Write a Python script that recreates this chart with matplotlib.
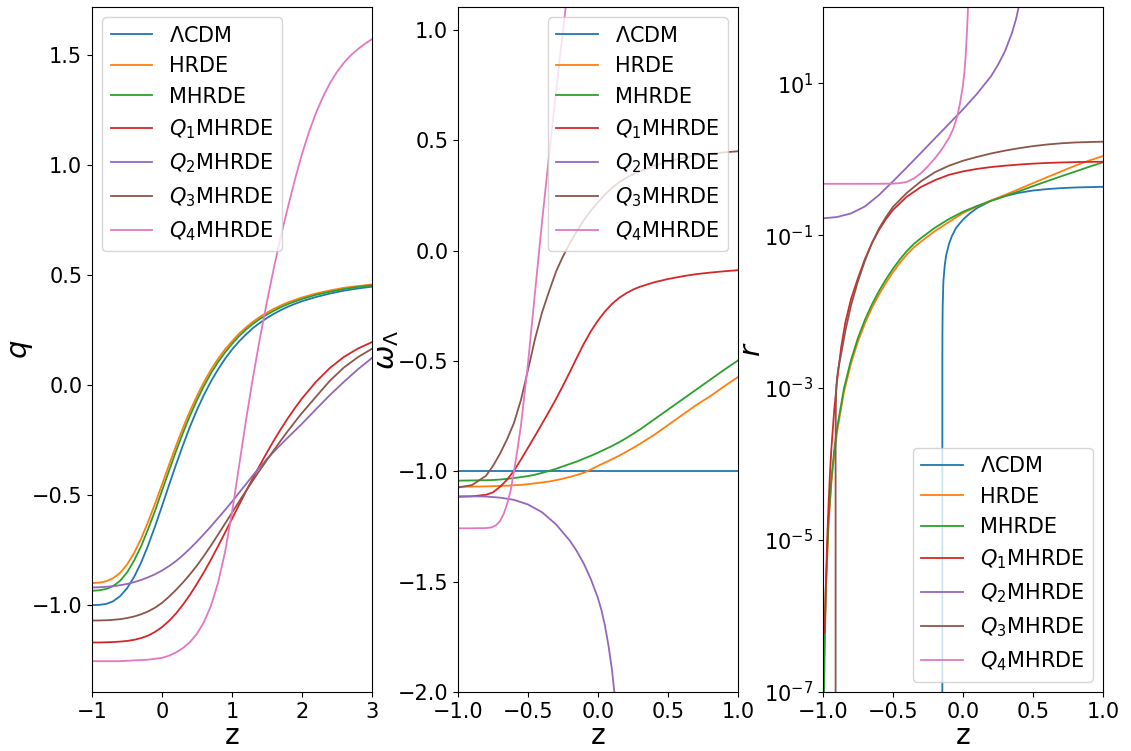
import numpy as np
import matplotlib
matplotlib.use('Agg')
import matplotlib.pyplot as plt
from matplotlib.ticker import FixedLocator, NullLocator

labels = [r'$\Lambda$CDM', 'HRDE', 'MHRDE', r'$Q_1$MHRDE',
          r'$Q_2$MHRDE', r'$Q_3$MHRDE', r'$Q_4$MHRDE']
colors = ['C0', 'C1', 'C2', 'C3', 'C4', 'C5', 'C6']

# ---- panel 1 : deceleration parameter q(z) ----
z1 = [-1.0, -0.9, -0.8, -0.7, -0.6, -0.5, -0.4, -0.3, -0.2, -0.1, 0.0,
      0.1, 0.2, 0.3, 0.4, 0.5, 0.6, 0.7, 0.8, 0.9, 1.0,
      1.1, 1.2, 1.3, 1.4, 1.5, 1.6, 1.7, 1.8, 1.9, 2.0,
      2.2, 2.4, 2.6, 2.8, 3.0]
q_lcdm = [-1.0, -0.999, -0.995, -0.983, -0.960, -0.924, -0.873, -0.808, -0.730, -0.643, -0.550,
          -0.455, -0.362, -0.273, -0.189, -0.113, -0.044, 0.017, 0.071, 0.119, 0.161,
          0.198, 0.230, 0.259, 0.283, 0.305, 0.324, 0.341, 0.356, 0.369, 0.381,
          0.400, 0.416, 0.429, 0.439, 0.447]
q_hrde = [-0.900, -0.898, -0.892, -0.878, -0.854, -0.816, -0.764, -0.699, -0.623, -0.540, -0.452,
          -0.363, -0.276, -0.194, -0.118, -0.049, 0.014, 0.070, 0.119, 0.162, 0.199,
          0.233, 0.262, 0.288, 0.310, 0.329, 0.347, 0.362, 0.376, 0.387, 0.398,
          0.416, 0.430, 0.442, 0.450, 0.457]
q_mhrde = [-0.935, -0.933, -0.927, -0.914, -0.890, -0.852, -0.799, -0.734, -0.656, -0.572, -0.480,
           -0.390, -0.301, -0.217, -0.139, -0.068, -0.004, 0.054, 0.104, 0.148, 0.187,
           0.222, 0.252, 0.278, 0.301, 0.320, 0.338, 0.354, 0.368, 0.380, 0.391,
           0.410, 0.424, 0.436, 0.446, 0.453]
q_q1 = [-1.170, -1.170, -1.169, -1.168, -1.166, -1.163, -1.158, -1.150, -1.139, -1.122, -1.100,
        -1.072, -1.038, -0.998, -0.953, -0.903, -0.850, -0.793, -0.733, -0.671, -0.608,
        -0.545, -0.483, -0.422, -0.363, -0.306, -0.251, -0.199, -0.150, -0.104, -0.061,
        0.015, 0.078, 0.128, 0.166, 0.195]
q_q2 = [-0.920, -0.919, -0.917, -0.914, -0.910, -0.904, -0.896, -0.886, -0.874, -0.860, -0.843,
        -0.823, -0.800, -0.773, -0.743, -0.711, -0.677, -0.642, -0.605, -0.568, -0.530,
        -0.490, -0.450, -0.410, -0.372, -0.336, -0.302, -0.270, -0.238, -0.207, -0.176,
        -0.110, -0.045, 0.015, 0.072, 0.123]
q_q3 = [-1.070, -1.070, -1.069, -1.067, -1.064, -1.059, -1.052, -1.042, -1.029, -1.012, -0.990,
        -0.962, -0.931, -0.897, -0.860, -0.820, -0.776, -0.729, -0.680, -0.630, -0.580,
        -0.530, -0.481, -0.433, -0.386, -0.340, -0.295, -0.251, -0.208, -0.167, -0.127,
        -0.053, 0.020, 0.080, 0.127, 0.165]
z1_q4 = [-1.0, -0.6, -0.2, 0.0, 0.1, 0.2, 0.3, 0.4, 0.5, 0.6, 0.7, 0.8, 0.9, 1.0,
         1.1, 1.2, 1.3, 1.4, 1.5, 1.6, 1.7, 1.8, 1.9, 2.0,
         2.1, 2.2, 2.3, 2.4, 2.5, 2.6, 2.7, 2.8, 2.9, 3.0]
q_q4 = [-1.255, -1.255, -1.248, -1.240, -1.230, -1.215, -1.195, -1.168, -1.130, -1.077, -1.003,
        -0.900, -0.760, -0.580, -0.370, -0.160, 0.035, 0.215, 0.380, 0.535, 0.680, 0.810,
        0.935, 1.050, 1.150, 1.237, 1.310, 1.372, 1.423, 1.465, 1.499, 1.527, 1.551, 1.572]

# ---- panel 2 : equation of state w_Lambda(z) ----
z2 = [-1.0, -0.9, -0.8, -0.75, -0.7, -0.65, -0.6, -0.55, -0.5, -0.45, -0.4, -0.35, -0.3,
      -0.25, -0.2, -0.15, -0.1, -0.05, 0.0, 0.05, 0.1, 0.15, 0.2, 0.25, 0.3,
      0.4, 0.5, 0.6, 0.7, 0.8, 0.9, 1.0]
w_lcdm = [-1.0] * 32
w_hrde = [-1.070, -1.069, -1.068, -1.067, -1.066, -1.065, -1.063, -1.061, -1.058, -1.054,
          -1.050, -1.046, -1.040, -1.033, -1.025, -1.016, -1.006, -0.991, -0.975, -0.960,
          -0.945, -0.929, -0.912, -0.894, -0.875,
          -0.835, -0.790, -0.745, -0.700, -0.660, -0.615, -0.572]
w_mhrde = [-1.042, -1.041, -1.040, -1.039, -1.037, -1.034, -1.030, -1.026, -1.021, -1.015,
           -1.007, -0.998, -0.988, -0.977, -0.966, -0.955, -0.942, -0.929, -0.915, -0.900,
           -0.885, -0.868, -0.850, -0.830, -0.810,
           -0.765, -0.720, -0.675, -0.630, -0.585, -0.540, -0.497]
w_q1 = [-1.115, -1.113, -1.106, -1.095, -1.070, -1.038, -0.997, -0.946, -0.893, -0.839,
        -0.784, -0.729, -0.672, -0.611, -0.548, -0.483, -0.420, -0.364, -0.316, -0.275,
        -0.241, -0.214, -0.193, -0.176, -0.163,
        -0.143, -0.128, -0.116, -0.106, -0.099, -0.093, -0.088]
w_q3 = [-1.073, -1.062, -1.020, -0.975, -0.920, -0.855, -0.780, -0.675, -0.540, -0.400,
        -0.280, -0.185, -0.095, -0.025, 0.035, 0.090, 0.140, 0.183, 0.220, 0.255,
        0.285, 0.310, 0.330, 0.347, 0.360,
        0.385, 0.405, 0.420, 0.432, 0.440, 0.446, 0.451]
z2_q2 = [-1.0, -0.9, -0.8, -0.7, -0.6, -0.5, -0.4, -0.3, -0.2, -0.15, -0.1, -0.05, 0.0,
         0.025, 0.05, 0.075, 0.1, 0.125, 0.15]
w_q2 = [-1.113, -1.113, -1.114, -1.119, -1.129, -1.150, -1.185, -1.240, -1.315, -1.363,
        -1.420, -1.490, -1.575, -1.630, -1.700, -1.790, -1.900, -2.050, -2.250]
z2_q4 = [-1.0, -0.9, -0.8, -0.76, -0.73, -0.7, -0.675, -0.65, -0.625, -0.6, -0.575,
         -0.55, -0.5, -0.45, -0.4, -0.35, -0.3, -0.25, -0.2]
w_q4 = [-1.258, -1.258, -1.257, -1.254, -1.245, -1.225, -1.195, -1.150, -1.090, -1.000,
        -0.900, -0.790, -0.510, -0.190, 0.130, 0.430, 0.720, 1.000, 1.270]

# ---- panel 3 : r(z), log scale ----
z3_lcdm = [-0.1476, -0.1475, -0.147, -0.145, -0.14, -0.13, -0.12, -0.10, -0.08, -0.05,
           0.0, 0.05, 0.1, 0.2, 0.3, 0.4, 0.5, 0.6, 0.7, 0.8, 0.9, 1.0]
r_lcdm = [1e-9, 2e-3, 5e-3, 0.012, 0.025, 0.041, 0.055, 0.077, 0.097, 0.125,
          0.161, 0.195, 0.228, 0.285, 0.328, 0.362, 0.388, 0.405, 0.417, 0.425, 0.430, 0.434]
z3_hde = [-0.995, -0.99, -0.98, -0.96, -0.94, -0.92, -0.9, -0.85, -0.8, -0.75, -0.7, -0.65,
          -0.6, -0.55, -0.5, -0.45, -0.4, -0.35, -0.3, -0.2, -0.1, 0.0,
          0.1, 0.2, 0.3, 0.4, 0.5, 0.6, 0.7, 0.8, 0.9, 1.0]
r_hrde = [3.2e-8, 2.6e-7, 2.07e-6, 1.67e-5, 5.7e-5, 1.33e-4, 2.6e-4, 8.8e-4, 2.07e-3, 4.05e-3,
          7.0e-3, 0.0112, 0.0167, 0.0238, 0.0329, 0.0437, 0.0563, 0.0696, 0.0828, 0.114,
          0.150, 0.196, 0.240, 0.287, 0.340, 0.405, 0.485, 0.580, 0.690, 0.820, 0.960, 1.100]
r_mhrde = [3.6e-8, 2.9e-7, 2.3e-6, 1.86e-5, 6.3e-5, 1.48e-4, 2.9e-4, 9.8e-4, 2.3e-3, 4.5e-3,
           7.8e-3, 0.0124, 0.0186, 0.0264, 0.0365, 0.0485, 0.0625, 0.0773, 0.092, 0.126,
           0.164, 0.204, 0.243, 0.283, 0.328, 0.379, 0.443, 0.514, 0.596, 0.687, 0.794, 0.912]
z3_q1 = [-0.988, -0.98, -0.97, -0.96, -0.95, -0.94, -0.92, -0.9, -0.87, -0.84, -0.8, -0.75,
         -0.7, -0.65, -0.6, -0.55, -0.5, -0.4, -0.3, -0.2, -0.1, 0.0,
         0.1, 0.2, 0.3, 0.4, 0.5, 0.6, 0.7, 0.8, 0.9, 1.0]
r_q1 = [6.0e-7, 2.4e-6, 1.0e-5, 3.0e-5, 7.6e-5, 1.58e-4, 5.0e-4, 1.2e-3, 3.4e-3, 7.2e-3,
        0.0145, 0.0275, 0.049, 0.0794, 0.1175, 0.164, 0.216, 0.324, 0.432, 0.531, 0.624,
        0.692, 0.746, 0.789, 0.822, 0.851, 0.875, 0.893, 0.906, 0.916, 0.923, 0.927]
z3_q2 = [-1.0, -0.9, -0.8, -0.7, -0.6, -0.5, -0.4, -0.3, -0.2, -0.1, 0.0, 0.1, 0.2,
         0.25, 0.3, 0.35, 0.38, 0.4]
r_q2 = [0.167, 0.174, 0.194, 0.240, 0.339, 0.513, 0.785, 1.216, 1.884, 2.92, 4.52, 7.24,
        12.3, 17.4, 26.3, 45.7, 70.8, 104.7]
z3_q3 = [-0.9101, -0.9100, -0.9095, -0.908, -0.905, -0.9, -0.89, -0.87, -0.84, -0.8, -0.75,
         -0.7, -0.65, -0.6, -0.55, -0.5, -0.4, -0.3, -0.2, -0.1, 0.0,
         0.1, 0.2, 0.3, 0.4, 0.5, 0.6, 0.7, 0.8, 0.9, 1.0]
r_q3 = [1e-9, 1e-4, 2.8e-4, 5.6e-4, 1.0e-3, 1.32e-3, 1.82e-3, 2.8e-3, 5.6e-3, 0.012, 0.0251,
        0.0468, 0.0794, 0.123, 0.174, 0.237, 0.363, 0.513, 0.676, 0.822, 0.955,
        1.072, 1.189, 1.297, 1.396, 1.486, 1.560, 1.618, 1.660, 1.683, 1.700]
z3_q4 = [-1.0, -0.8, -0.6, -0.5, -0.45, -0.4, -0.35, -0.3, -0.25, -0.2, -0.15, -0.1,
         -0.07, -0.04, -0.02, 0.0, 0.01, 0.02, 0.03, 0.035, 0.04]
r_q4 = [0.475, 0.475, 0.476, 0.478, 0.486, 0.505, 0.56, 0.655, 0.81, 1.03, 1.36, 1.9,
        2.5, 3.7, 5.6, 9.5, 14.0, 24.0, 55.0, 90.0, 200.0]

plt.rcParams['font.size'] = 15
plt.rcParams['mathtext.fontset'] = 'dejavusans'

fig = plt.figure(figsize=(11.31, 7.51), dpi=100)
W, H = 1131.0, 751.0
def add_ax(left, right, top=7, bottom=692):
    return fig.add_axes([left / W, (H - bottom) / H, (right - left) / W, (bottom - top) / H])

ax1 = add_ax(92, 372)
ax2 = add_ax(458, 738)
ax3 = add_ax(823, 1103)

# panel 1
series1 = [(z1, q_lcdm), (z1, q_hrde), (z1, q_mhrde), (z1, q_q1),
           (z1, q_q2), (z1, q_q3), (z1_q4, q_q4)]
for (zz, yy), c, lab in zip(series1, colors, labels):
    ax1.plot(zz, yy, color=c, lw=1.3, label=lab)
ax1.set_xlim(-1, 3)
ax1.set_ylim(-1.395, 1.718)
ax1.set_xticks([-1, 0, 1, 2, 3])
ax1.set_yticks([-1.0, -0.5, 0.0, 0.5, 1.0, 1.5])
ax1.set_ylabel(r'$q$', fontsize=21)
ax1.set_xlabel('z', fontsize=20, labelpad=0)
ax1.legend(loc='upper left', fontsize=15)

# panel 2
series2 = [(z2, w_lcdm), (z2, w_hrde), (z2, w_mhrde), (z2, w_q1),
           (z2_q2, w_q2), (z2, w_q3), (z2_q4, w_q4)]
for (zz, yy), c, lab in zip(series2, colors, labels):
    ax2.plot(zz, yy, color=c, lw=1.3, label=lab)
ax2.set_xlim(-1, 1)
ax2.set_ylim(-2.0, 1.105)
ax2.set_xticks([-1.0, -0.5, 0.0, 0.5, 1.0])
ax2.set_yticks([-2.0, -1.5, -1.0, -0.5, 0.0, 0.5, 1.0])
ax2.set_ylabel(r'$\omega_\Lambda$', fontsize=21)
ax2.set_xlabel('z', fontsize=20, labelpad=0)
ax2.legend(loc='upper right', fontsize=15)

# panel 3
series3 = [(z3_lcdm, r_lcdm), (z3_hde, r_hrde), (z3_hde, r_mhrde), (z3_q1, r_q1),
           (z3_q2, r_q2), (z3_q3, r_q3), (z3_q4, r_q4)]
for (zz, yy), c, lab in zip(series3, colors, labels):
    ax3.plot(zz, yy, color=c, lw=1.3, label=lab)
ax3.set_yscale('log')
ax3.set_xlim(-1, 1)
ax3.set_ylim(1e-7, 1e2)
ax3.set_xticks([-1.0, -0.5, 0.0, 0.5, 1.0])
ax3.yaxis.set_major_locator(FixedLocator([1e-7, 1e-5, 1e-3, 1e-1, 1e1]))
ax3.yaxis.set_minor_locator(NullLocator())
ax3.set_ylabel(r'$r$', fontsize=21)
ax3.set_xlabel('z', fontsize=20, labelpad=0)
ax3.legend(loc='lower right', fontsize=15)

# y labels sit just left of the tick labels
for ax in (ax1, ax2, ax3):
    ax.yaxis.set_label_coords(-0.205, 0.5)

plt.savefig('out.png', dpi=100)
